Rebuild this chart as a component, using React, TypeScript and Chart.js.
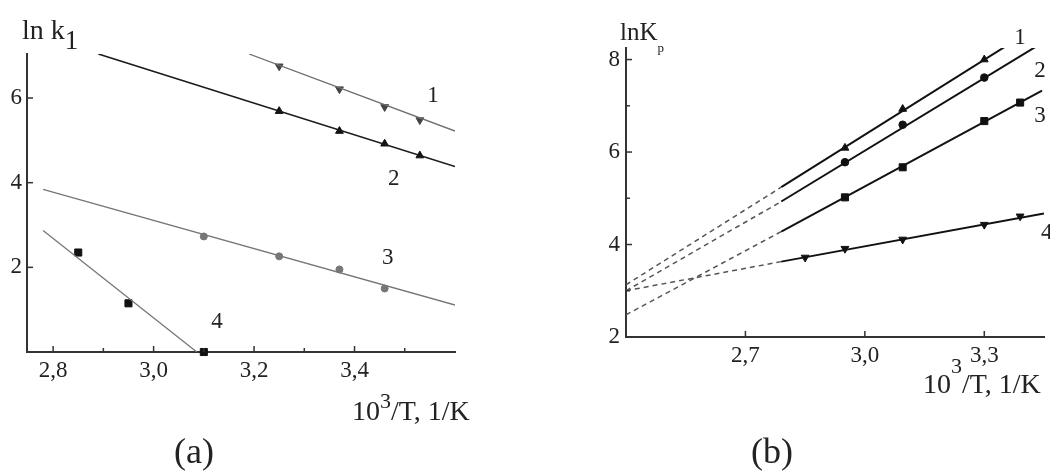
import React, { useEffect, useRef } from "react";
import { Chart, registerables } from "chart.js";
Chart.register(...registerables);

// ---------- Panel (a): ln k1 vs 10^3/T ----------
const aTicksX = [2.8, 2.9, 3.0, 3.1, 3.2, 3.3, 3.4, 3.5];
const aMajorX = [2.8, 3.0, 3.2, 3.4];
const aTicksY = [2, 4, 6];

const a1X = [3.25, 3.37, 3.46, 3.53];
const a1Y = [6.75, 6.21, 5.79, 5.48];
const a2X = [3.25, 3.37, 3.46, 3.53];
const a2Y = [5.69, 5.22, 4.92, 4.64];
const a3X = [3.1, 3.25, 3.37, 3.46];
const a3Y = [2.73, 2.26, 1.95, 1.5];
const a4X = [2.85, 2.95, 3.1];
const a4Y = [2.35, 1.15, 0.0];

// fitted straight lines (end points)
const a1FitX = [3.19, 3.6];
const a1FitY = [7.04, 5.22];
const a2FitX = [2.89, 3.6];
const a2FitY = [7.04, 4.38];
const a3FitX = [2.78, 3.6];
const a3FitY = [3.84, 1.11];
const a4FitX = [2.78, 3.086];
const a4FitY = [2.87, 0.0];

const aCurveNames = ["1", "2", "3", "4"];
const aCurveNameX = [3.556, 3.478, 3.466, 3.126];
const aCurveNameY = [6.05, 4.09, 2.21, 0.71];

// ---------- Panel (b): ln Kp vs 10^3/T ----------
const bTicksX = [2.7, 3.0, 3.3];
const bTicksY = [2, 3, 4, 5, 6, 7, 8];
const bMajorY = [2, 4, 6, 8];

const b1X = [2.95, 3.095, 3.3];
const b1Y = [6.09, 6.93, 8.0];
const b2X = [2.95, 3.095, 3.3];
const b2Y = [5.78, 6.59, 7.61];
const b3X = [2.95, 3.095, 3.3, 3.39];
const b3Y = [5.02, 5.67, 6.67, 7.07];
const b4X = [2.85, 2.95, 3.095, 3.3, 3.39];
const b4Y = [3.72, 3.91, 4.11, 4.43, 4.61];

const b1FitX = [2.79, 3.3525];
const b1FitY = [5.24, 8.28];
const b2FitX = [2.79, 3.43];
const b2FitY = [4.93, 8.28];
const b3FitX = [2.79, 3.445];
const b3FitY = [4.28, 7.33];
const b4FitX = [2.79, 3.45];
const b4FitY = [3.63, 4.67];

const b1ExtX = [2.4, 2.79];
const b1ExtY = [3.13, 5.24];
const b2ExtX = [2.4, 2.79];
const b2ExtY = [3.0, 4.93];
const b3ExtX = [2.4, 2.79];
const b3ExtY = [2.48, 4.28];
const b4ExtX = [2.4, 2.79];
const b4ExtY = [3.0, 3.63];

const bCurveNames = ["1", "2", "3", "4"];
const bCurveNameX = [3.39, 3.44, 3.44, 3.457];
const bCurveNameY = [8.46, 7.76, 6.78, 4.26];

// ---------- helpers ----------
const FONT = "'Liberation Serif', 'DejaVu Serif', serif";
const pts = (xs: number[], ys: number[]) => xs.map((x, i) => ({ x, y: ys[i] }));
const comma = (v: number) => v.toFixed(1).replace(".", ",");
const near = (arr: number[], v: number) => arr.some((m) => Math.abs(m - v) < 1e-6);

type Run = { t: string; size: number; dy: number };
function drawRuns(ctx: CanvasRenderingContext2D, x: number, y: number, runs: Run[]) {
  let cx = x;
  ctx.textAlign = "left";
  ctx.textBaseline = "alphabetic";
  for (const r of runs) {
    ctx.font = `${r.size}px ${FONT}`;
    ctx.fillText(r.t, cx, y + r.dy);
    cx += ctx.measureText(r.t).width;
  }
}

function drawTicks(chart: any, id: string, majors: number[] | null, majorLen: number, minorLen: number) {
  const s = chart.scales[id];
  const a = chart.chartArea;
  const ctx = chart.ctx as CanvasRenderingContext2D;
  ctx.save();
  ctx.strokeStyle = "#333";
  ctx.lineWidth = 1.5;
  for (const t of s.ticks) {
    const len = !majors || near(majors, t.value) ? majorLen : minorLen;
    const p = s.getPixelForValue(t.value);
    ctx.beginPath();
    if (s.isHorizontal()) {
      ctx.moveTo(p, a.bottom);
      ctx.lineTo(p, a.bottom - len);
    } else {
      ctx.moveTo(a.left, p);
      ctx.lineTo(a.left + len, p);
    }
    ctx.stroke();
  }
  ctx.restore();
}

function drawNames(chart: any, names: string[], xs: number[], ys: number[], size: number) {
  const ctx = chart.ctx as CanvasRenderingContext2D;
  const sx = chart.scales.x;
  const sy = chart.scales.y;
  ctx.save();
  ctx.fillStyle = "#222";
  ctx.font = `${size}px ${FONT}`;
  ctx.textAlign = "center";
  ctx.textBaseline = "middle";
  names.forEach((n, i) => ctx.fillText(n, sx.getPixelForValue(xs[i]), sy.getPixelForValue(ys[i])));
  ctx.restore();
}

function axisCommon(tickValues: number[], fmt: (v: number) => string, padding: number) {
  return {
    type: "linear" as const,
    afterBuildTicks: (s: any) => {
      s.ticks = tickValues.map((v) => ({ value: v }));
    },
    ticks: {
      autoSkip: false,
      maxRotation: 0,
      padding,
      color: "#222",
      font: { family: FONT, size: 23 },
      callback: (v: any) => fmt(Number(v)),
    },
    grid: { display: false, drawTicks: false },
    border: { display: true, color: "#333", width: 2 },
  };
}

function fitLine(xs: number[], ys: number[], color: string, width: number, dash: number[] = []) {
  return {
    data: pts(xs, ys),
    showLine: true,
    borderColor: color,
    borderWidth: width,
    borderDash: dash,
    pointRadius: 0,
    pointHoverRadius: 0,
    tension: 0,
  };
}

function marks(xs: number[], ys: number[], style: string, color: string, radius: number, rotation = 0) {
  return {
    data: pts(xs, ys),
    showLine: false,
    pointStyle: style,
    pointRotation: rotation,
    pointRadius: radius,
    pointBackgroundColor: color,
    pointBorderColor: color,
    pointBorderWidth: 1,
    clip: false as any,
  };
}

function configA(): any {
  return {
    type: "scatter",
    data: {
      datasets: [
        fitLine(a1FitX, a1FitY, "#6e6e6e", 1.3),
        fitLine(a2FitX, a2FitY, "#1a1a1a", 1.6),
        fitLine(a3FitX, a3FitY, "#777", 1.3),
        fitLine(a4FitX, a4FitY, "#777", 1.3),
        marks(a1X, a1Y, "triangle", "#444", 4.5, 180),
        marks(a2X, a2Y, "triangle", "#111", 4.5),
        marks(a3X, a3Y, "circle", "#777", 3.5),
        marks(a4X, a4Y, "rect", "#111", 5),
      ],
    },
    options: {
      animation: false,
      responsive: false,
      devicePixelRatio: 1,
      events: [],
      layout: { padding: { left: 0, right: 65, top: 54, bottom: 79 } },
      plugins: { legend: { display: false }, tooltip: { enabled: false }, title: { display: false } },
      scales: {
        x: {
          ...axisCommon(aTicksX, (v) => (near(aMajorX, v) ? comma(v) : ""), 5),
          min: 2.748,
          max: 3.6,
          afterFit: (s: any) => {
            s.height = 40;
          },
        },
        y: {
          ...axisCommon(aTicksY, (v) => String(v), 5),
          min: 0,
          max: 7.04,
          afterFit: (s: any) => {
            s.width = 27;
          },
        },
      },
    },
    plugins: [
      {
        id: "extrasA",
        afterDraw(chart: any) {
          drawTicks(chart, "x", aMajorX, 6, 4);
          drawTicks(chart, "y", null, 6, 6);
          drawNames(chart, aCurveNames, aCurveNameX, aCurveNameY, 23);
          const ctx = chart.ctx as CanvasRenderingContext2D;
          ctx.save();
          ctx.fillStyle = "#222";
          drawRuns(ctx, 22, 39, [{ t: "ln k", size: 28, dy: 0 }, { t: "1", size: 27, dy: 10 }]);
          drawRuns(ctx, 352, 420, [
            { t: "10", size: 28, dy: 0 },
            { t: "3", size: 22, dy: -12 },
            { t: "/T, 1/K", size: 28, dy: 0 },
          ]);
          ctx.font = `36px ${FONT}`;
          ctx.textAlign = "center";
          ctx.fillText("(a)", 194, 463);
          ctx.restore();
        },
      },
    ],
  };
}

function configB(): any {
  return {
    type: "scatter",
    data: {
      datasets: [
        fitLine(b1ExtX, b1ExtY, "#555", 1.5, [5, 4]),
        fitLine(b2ExtX, b2ExtY, "#555", 1.5, [5, 4]),
        fitLine(b3ExtX, b3ExtY, "#555", 1.5, [5, 4]),
        fitLine(b4ExtX, b4ExtY, "#555", 1.5, [5, 4]),
        fitLine(b1FitX, b1FitY, "#111", 2),
        fitLine(b2FitX, b2FitY, "#111", 2),
        fitLine(b3FitX, b3FitY, "#111", 2),
        fitLine(b4FitX, b4FitY, "#111", 2),
        marks(b1X, b1Y, "triangle", "#111", 4.5),
        marks(b2X, b2Y, "circle", "#111", 3.8),
        marks(b3X, b3Y, "rect", "#111", 5),
        marks(b4X, b4Y, "triangle", "#111", 4.5, 180),
      ],
    },
    options: {
      animation: false,
      responsive: false,
      devicePixelRatio: 1,
      events: [],
      layout: { padding: { left: 76, right: 3, top: 48, bottom: 94 } },
      plugins: { legend: { display: false }, tooltip: { enabled: false }, title: { display: false } },
      scales: {
        x: {
          ...axisCommon(bTicksX, (v) => comma(v), 5),
          min: 2.4,
          max: 3.45,
          afterFit: (s: any) => {
            s.height = 40;
          },
        },
        y: {
          ...axisCommon(bTicksY, (v) => (near(bMajorY, v) ? String(v) : ""), 6),
          min: 2,
          max: 8.25,
          afterFit: (s: any) => {
            s.width = 30;
          },
        },
      },
    },
    plugins: [
      {
        id: "extrasB",
        afterDraw(chart: any) {
          drawTicks(chart, "x", null, 6, 6);
          drawTicks(chart, "y", bMajorY, 6, 4);
          drawNames(chart, bCurveNames, bCurveNameX, bCurveNameY, 23);
          const ctx = chart.ctx as CanvasRenderingContext2D;
          ctx.save();
          ctx.fillStyle = "#222";
          drawRuns(ctx, 100, 40, [{ t: "lnK", size: 25, dy: 0 }, { t: "p", size: 13, dy: 12 }]);
          drawRuns(ctx, 403, 393, [
            { t: "10", size: 28, dy: 0 },
            { t: "3", size: 22, dy: -20 },
            { t: "/T, 1/K", size: 28, dy: 0 },
          ]);
          ctx.font = `36px ${FONT}`;
          ctx.textAlign = "center";
          ctx.fillText("(b)", 252, 463);
          ctx.restore();
        },
      },
    ],
  };
}

export default function App() {
  const refA = useRef<HTMLCanvasElement>(null);
  const refB = useRef<HTMLCanvasElement>(null);
  useEffect(() => {
    const ca = new Chart(refA.current as HTMLCanvasElement, configA());
    const cb = new Chart(refB.current as HTMLCanvasElement, configB());
    return () => {
      ca.destroy();
      cb.destroy();
    };
  }, []);
  return (
    <div
      style={{
        position: "absolute",
        left: 0,
        top: 0,
        width: 1050,
        height: 471,
        background: "#fff",
        overflow: "hidden",
      }}
    >
      <canvas
        ref={refA}
        width={520}
        height={471}
        style={{ position: "absolute", left: 0, top: 0, width: 520, height: 471 }}
      />
      <canvas
        ref={refB}
        width={530}
        height={471}
        style={{ position: "absolute", left: 520, top: 0, width: 530, height: 471 }}
      />
    </div>
  );
}
